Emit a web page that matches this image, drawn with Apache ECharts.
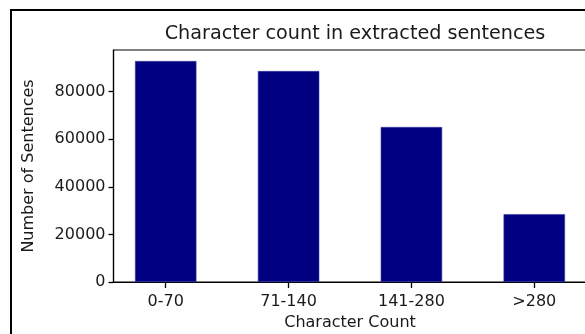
<!DOCTYPE html>
<html>
<head>
<meta charset="utf-8">
<script src="https://cdn.jsdelivr.net/npm/echarts@6/dist/echarts.min.js"></script>
<style>
html,body{margin:0;padding:0;background:#fff;}
#chart{width:585px;height:334px;}
</style>
</head>
<body>
<div id="chart"></div>
<script>
const categories = ['0-70', '71-140', '141-280', '>280'];
const sentenceCounts = [92800, 88600, 65100, 28500];
const yTicks = [0, 20000, 40000, 60000, 80000];

const FONT = 'DejaVu Sans';
const TXT = '#1a1a1a';
const gridLeft = 113.5, gridTop = 50, gridWidth = 473, gridHeight = 232;
const xMin = -0.425, xMax = 3.425;
const barPx = 0.5 * gridWidth / (xMax - xMin);
const catPositions = categories.map((c, i) => i);

const chart = echarts.init(document.getElementById('chart'), null, {renderer: 'canvas'});
chart.setOption({
  animation: false,
  backgroundColor: '#fff',
  title: {
    text: 'Character count in extracted sentences',
    left: gridLeft + gridWidth / 2, textAlign: 'center', top: 20,
    textStyle: {fontFamily: FONT, fontSize: 19.2, fontWeight: 'normal', color: TXT}
  },
  graphic: [
    {type: 'line', shape: {x1: 10, y1: 10, x2: 585, y2: 10}, style: {stroke: '#000', lineWidth: 2}},
    {type: 'line', shape: {x1: 11, y1: 10, x2: 11, y2: 334}, style: {stroke: '#000', lineWidth: 2}}
  ],
  grid: {
    left: gridLeft, top: gridTop, width: gridWidth, height: gridHeight,
    containLabel: false, outerBoundsMode: 'none',
    show: true, borderColor: '#000', borderWidth: 1.2, backgroundColor: 'transparent'
  },
  xAxis: {
    type: 'value', min: xMin, max: xMax,
    name: 'Character Count', nameLocation: 'middle', nameGap: 33,
    nameTextStyle: {fontFamily: FONT, fontSize: 16, color: TXT},
    axisLine: {show: true, onZero: false, lineStyle: {color: '#000', width: 1.2}},
    axisTick: {show: true, customValues: catPositions, length: 6, inside: false, lineStyle: {color: '#000', width: 1.3}},
    axisLabel: {
      show: true, customValues: catPositions, margin: 12,
      fontFamily: FONT, fontSize: 16, color: TXT,
      formatter: v => categories[Math.round(v)]
    },
    splitLine: {show: false}
  },
  yAxis: {
    type: 'value', min: 0, max: 97440,
    name: 'Number of Sentences', nameLocation: 'middle', nameGap: 77,
    nameTextStyle: {fontFamily: FONT, fontSize: 16, color: TXT},
    axisLine: {show: true, onZero: false, lineStyle: {color: '#000', width: 1.2}},
    axisTick: {show: true, customValues: yTicks, length: 5, inside: false, lineStyle: {color: '#000', width: 1.3}},
    axisLabel: {
      show: true, customValues: yTicks, margin: 8, padding: [7, 0, 0, 0],
      fontFamily: FONT, fontSize: 16, color: TXT,
      formatter: v => String(v)
    },
    splitLine: {show: false}
  },
  series: [{
    type: 'bar',
    data: sentenceCounts.map((v, i) => [i, v]),
    barWidth: barPx,
    itemStyle: {color: '#000080', borderColor: '#3a3aa0', borderWidth: 0.6}
  }]
});
</script>
</body>
</html>
